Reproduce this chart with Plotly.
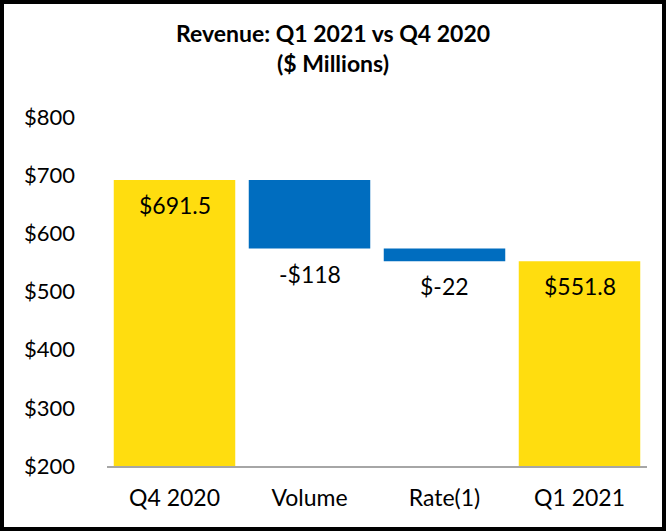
import plotly.graph_objects as go

categories = ["Q4 2020", "Volume", "Rate(1)", "Q1 2021"]
measures = ["absolute", "relative", "relative", "total"]
values = [691.5, -117.7, -22.0, 551.8]
labels = ["$691.5", "-$118", "$-22", "$551.8"]
tick_vals = [200, 300, 400, 500, 600, 700, 800]
tick_text = ["$200", "$300", "$400", "$500", "$600", "$700", "$800"]

YELLOW = "#FFDD0F"
BLUE = "#006DBF"
FONT = "Lato, 'Open Sans', sans-serif"

W, H = 666, 532
ml, mr, mt, mb = 107, 19, 117, 66

fig = go.Figure(go.Waterfall(
    x=categories, y=values, measure=measures,
    width=0.9,
    increasing=dict(marker=dict(color=BLUE)),
    decreasing=dict(marker=dict(color=BLUE)),
    totals=dict(marker=dict(color=YELLOW)),
    connector=dict(visible=False),
    textposition="none",
    hoverinfo="x+y",
))

running = 0.0
anns = []
for c, m, v, t in zip(categories, measures, values, labels):
    if m == "absolute":
        running = v
        y = v
    elif m == "relative":
        running += v
        y = running
    else:
        y = running
    anns.append(dict(x=c, y=y, text=t, showarrow=False, yanchor="middle",
                     yshift=-25, font=dict(size=23, color="black", family=FONT)))

pw = W - ml - mr
ph = H - mt - mb
fig.add_shape(type="rect", xref="paper", yref="paper",
              x0=(2 - ml) / pw, x1=1 + (mr - 2) / pw,
              y0=-(mb - 3) / ph, y1=1 + (mt - 2) / ph,
              line=dict(color="black", width=4), layer="above")

fig.update_layout(
    width=W, height=H,
    margin=dict(l=ml, r=mr, t=mt, b=mb),
    paper_bgcolor="white", plot_bgcolor="white",
    title=dict(text="<b>Revenue: Q1 2021 vs Q4 2020<br>($ Millions)</b>",
               x=0.5, xref="container", xanchor="center", y=1 - 42 / H, yanchor="middle",
               font=dict(size=23, color="black", family=FONT)),
    font=dict(family=FONT, color="black"),
    showlegend=False,
    annotations=anns,
    xaxis=dict(showline=True, linecolor="#A6A6A6", linewidth=2, showgrid=False,
               ticks="", tickfont=dict(size=23), ticklabelstandoff=10),
    yaxis=dict(range=[200, 800], tickvals=tick_vals, ticktext=tick_text,
               showgrid=False, zeroline=False, showline=False, ticks="",
               tickfont=dict(size=22), ticklabelstandoff=31),
)

fig.write_html("out.html", config={"displayModeBar": False},
               post_script="document.body.style.margin='0';document.body.style.overflow='hidden';")
